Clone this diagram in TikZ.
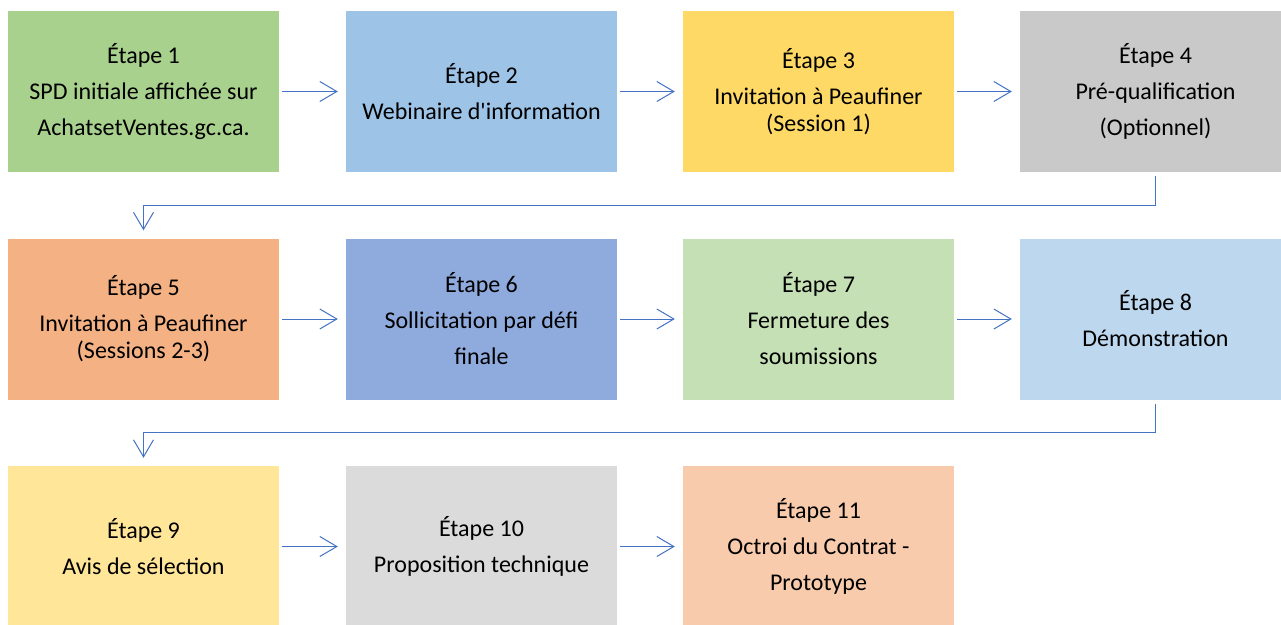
\documentclass[tikz,border=0pt]{standalone}
\usepackage{fontspec}
\setmainfont{Carlito}
\usetikzlibrary{arrows.meta}
\definecolor{c1}{HTML}{A9D18E}
\definecolor{c2}{HTML}{9DC3E6}
\definecolor{c3}{HTML}{FFD966}
\definecolor{c4}{HTML}{C9C9C9}
\definecolor{c5}{HTML}{F4B183}
\definecolor{c6}{HTML}{8FAADC}
\definecolor{c7}{HTML}{C5E0B4}
\definecolor{c8}{HTML}{BDD7EE}
\definecolor{c9}{HTML}{FFE699}
\definecolor{c10}{HTML}{DBDBDB}
\definecolor{c11}{HTML}{F8CBAD}
\definecolor{arrc}{HTML}{4472C4}
\begin{document}
\begin{tikzpicture}[x=1pt,y=-1pt,
  stepbox/.style={draw=none, minimum width=271pt, minimum height=161pt, align=center,
    inner sep=0pt, font=\fontsize{24}{36}\selectfont, text=black},
  arr/.style={draw=arrc, line width=1pt, -{Straight Barb[length=17pt,width=20pt]}}]
\useasboundingbox (0,0) rectangle (1281,624);
\fill[white] (0,0) rectangle (1281,624);
% row 1
\node[stepbox, fill=c1] (s1) at (143.5,91.5) {Étape 1\\SPD initiale affichée sur\\AchatsetVentes.gc.ca.};
\node[stepbox, fill=c2] (s2) at (481.5,91.5) {Étape 2\\Webinaire d\textquotesingle information};
\node[stepbox, fill=c3] (s3) at (818.5,91.5) {Étape 3\\Invitation à Peaufiner\\[-9pt](Session 1)};
\node[stepbox, fill=c4] (s4) at (1155.5,91.5) {Étape 4\\Pré-qualification\\(Optionnel)};
% row 2
\node[stepbox, fill=c5] (s5) at (143.5,319) {Étape 5\\Invitation à Peaufiner\\[-9pt](Sessions 2-3)};
\node[stepbox, fill=c6] (s6) at (481.5,319) {Étape 6\\Sollicitation par défi\\finale};
\node[stepbox, fill=c7] (s7) at (818.5,319) {Étape 7\\Fermeture des\\soumissions};
\node[stepbox, fill=c8] (s8) at (1155.5,319) {Étape 8\\Démonstration};
% row 3
\node[stepbox, fill=c9] (s9) at (143.5,546.5) {Étape 9\\Avis de sélection};
\node[stepbox, fill=c10] (s10) at (481.5,546.5) {Étape 10\\Proposition technique};
\node[stepbox, fill=c11] (s11) at (818.5,546.5) {Étape 11\\Octroi du Contrat -\\Prototype};
% horizontal arrows
\foreach \a/\b in {s1/s2,s2/s3,s3/s4,s5/s6,s6/s7,s7/s8,s9/s10,s10/s11}
  \draw[arr] ([xshift=3pt]\a.east) -- ([xshift=-8pt]\b.west);
% elbow connectors
\coordinate (m1) at (0,205);
\coordinate (m2) at (0,432.5);
\draw[arr] ([yshift=-4pt]s4.south) -- (s4.south |- m1) -| ([yshift=8pt]s5.north);
\draw[arr] ([yshift=-4pt]s8.south) -- (s8.south |- m2) -| ([yshift=8pt]s9.north);
\end{tikzpicture}
\end{document}
